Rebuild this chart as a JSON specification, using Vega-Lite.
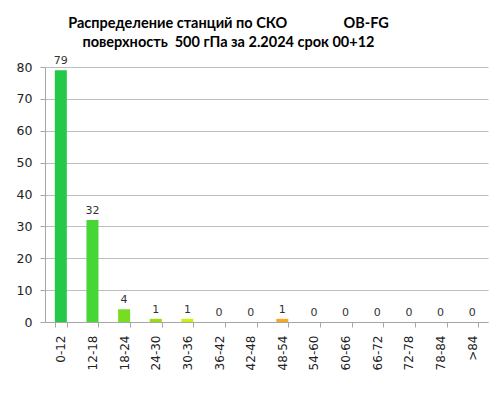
{
  "$schema": "https://vega.github.io/schema/vega-lite/v6.json",
  "autosize": {"type": "none"},
  "width": 443,
  "height": 255,
  "padding": {"left": 45, "top": 67, "right": 8, "bottom": 77},
  "background": "white",
  "config": {"view": {"stroke": null}},
  "title": {
    "text": ["Распределение станций по СКО\u00a0\u00a0\u00a0\u00a0\u00a0\u00a0\u00a0\u00a0\u00a0\u00a0\u00a0\u00a0\u00a0\u00a0\u00a0\u00a0OB-FG", "поверхность\u00a0\u00a0500 гПа за 2.2024 срок 00+12"],
    "font": "Lato",
    "fontSize": 14.5,
    "fontWeight": "bold",
    "color": "#000000",
    "anchor": "middle",
    "dx": -38,
    "offset": 5,
    "lineHeight": 19
  },
  "data": {
    "values": [
      {"range": "0-12", "count": 79},
      {"range": "12-18", "count": 32},
      {"range": "18-24", "count": 4},
      {"range": "24-30", "count": 1},
      {"range": "30-36", "count": 1},
      {"range": "36-42", "count": 0},
      {"range": "42-48", "count": 0},
      {"range": "48-54", "count": 1},
      {"range": "54-60", "count": 0},
      {"range": "60-66", "count": 0},
      {"range": "66-72", "count": 0},
      {"range": "72-78", "count": 0},
      {"range": "78-84", "count": 0},
      {"range": ">84", "count": 0}
    ]
  },
  "encoding": {
    "x": {
      "field": "range", "type": "nominal", "sort": null,
      "scale": {"paddingInner": 0.62, "paddingOuter": 0.31},
      "axis": {
        "title": null, "labelAngle": -90, "labelFont": "DejaVu Sans", "labelFontSize": 12,
        "labelColor": "#222222", "labelPadding": 8, "tickBand": "extent",
        "domainColor": "#a6a6a6", "tickColor": "#a6a6a6", "tickSize": 5, "labelBaseline": "middle", "labelAlign": "right"
      }
    },
    "y": {
      "field": "count", "type": "quantitative",
      "scale": {"domain": [0, 80]},
      "axis": {
        "title": null, "values": [0, 10, 20, 30, 40, 50, 60, 70, 80], "labelFont": "DejaVu Sans", "labelFontSize": 12.5,
        "labelColor": "#222222", "gridColor": "#bfbfbf", "gridWidth": 1, "domainColor": "#a6a6a6",
        "tickColor": "#a6a6a6", "tickSize": 5, "labelPadding": 8
      }
    }
  },
  "layer": [
    {
      "mark": {"type": "bar", "stroke": null},
      "encoding": {
        "color": {
          "field": "range", "type": "nominal", "legend": null,
          "scale": {
            "domain": ["0-12", "12-18", "18-24", "24-30", "30-36", "36-42", "42-48", "48-54", "54-60", "60-66", "66-72", "72-78", "78-84", ">84"],
            "range": ["#24c94a", "#48d636", "#77dd22", "#99dd11", "#ccee11", "#e8e010", "#f5c818", "#f9a823", "#f98a20", "#f56a1c", "#f04a18", "#e83014", "#e01a10", "#d00c0c"]
          }
        }
      }
    },
    {
      "mark": {"type": "text", "dy": -9, "font": "DejaVu Sans", "fontSize": 11, "fill": "#333333"},
      "encoding": {"text": {"field": "count", "type": "quantitative"}}
    }
  ]
}
